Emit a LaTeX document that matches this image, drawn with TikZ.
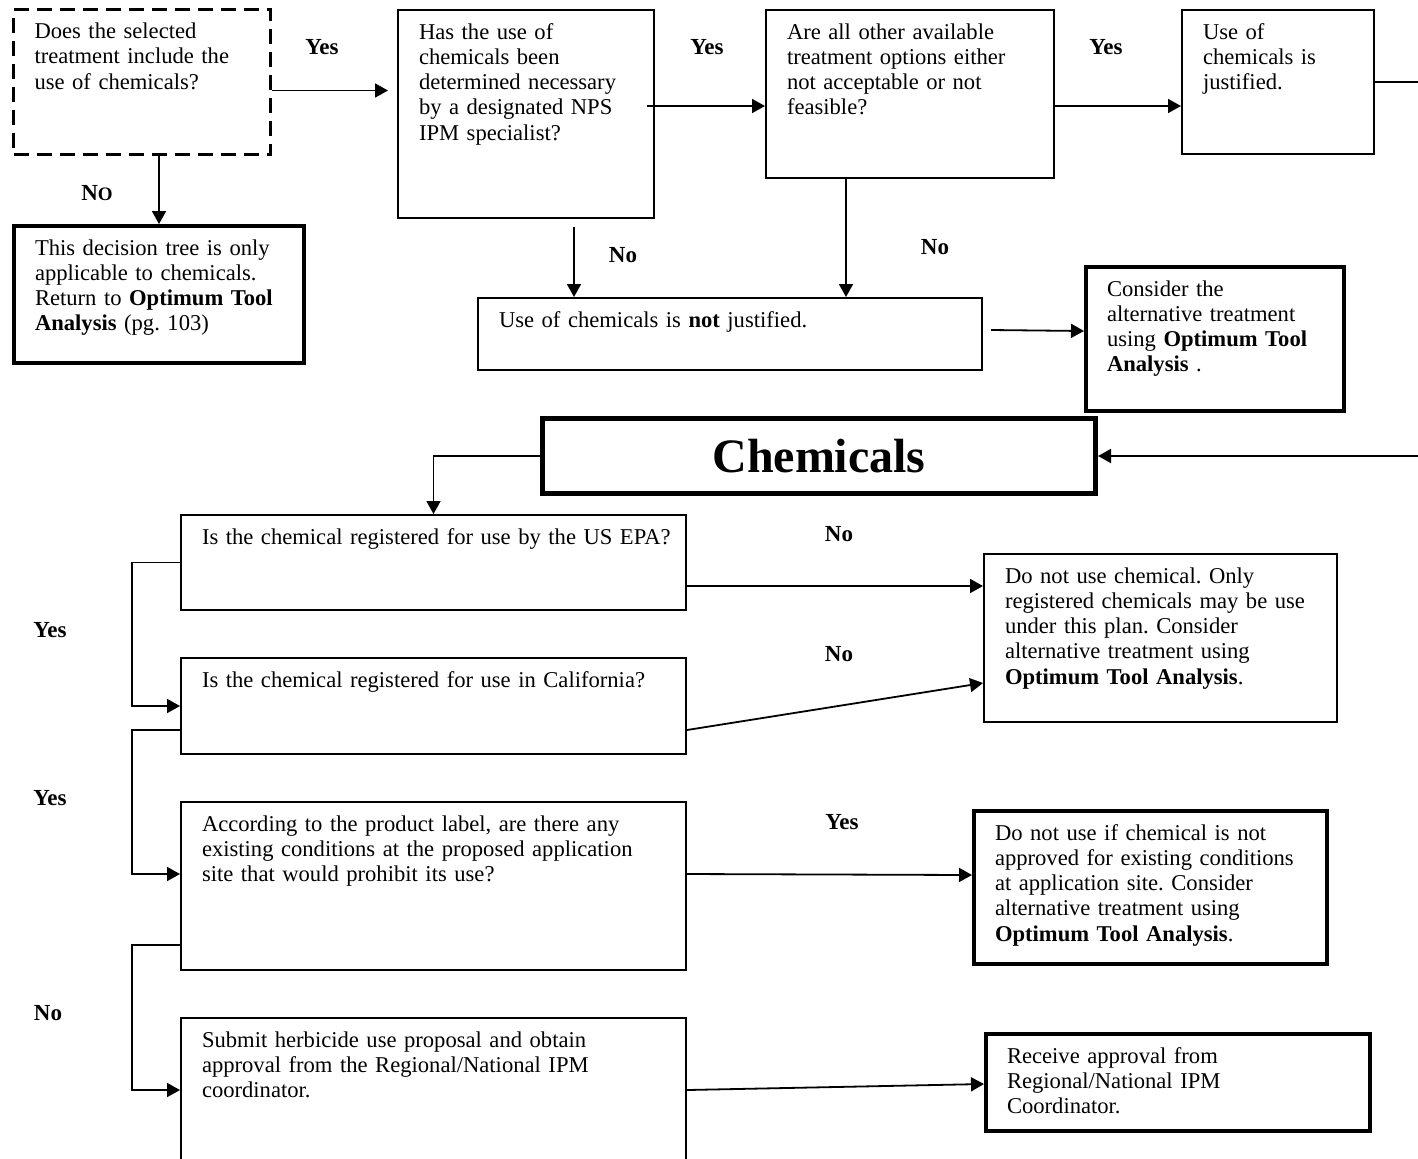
\documentclass[tikz,border=0pt]{standalone}
\usepackage{fontspec}
\setmainfont{Liberation Serif}
\usetikzlibrary{arrows.meta}
\usetikzlibrary{positioning}
\frenchspacing

\begin{document}
\begin{tikzpicture}[x=0.5pt, y=-0.5pt,
  box/.style={draw, line width=1pt, anchor=north west, align=left,
    inner xsep=10.5pt, inner ysep=6.5pt, text height=8pt,
    font=\fontsize{11.3}{12.65}\selectfont},
  heavy/.style={box, line width=2pt},
  lbl/.style={font=\fontsize{11.5}{12.65}\selectfont\bfseries},
  arr/.style={line width=0.9pt, -{Triangle[length=6.5pt,width=7pt]}}]
  \useasboundingbox (0,0) rectangle (1418,1158);

  % Upper part
  \node[box, line width=1.5pt, dash pattern=on 7.5pt off 4pt,
    text width=107.5pt, text depth=51.5pt] (q1) at (12,8)
    {Does the selected\\treatment include the\\use of chemicals?};
  \node[heavy, text width=124pt, text depth=47.5pt] (only) at (12,224)
    {This decision tree is only\\applicable to chemicals.\\Return to \textbf{Optimum Tool}\\\textbf{Analysis} (pg. 103)};
  \node[box, text width=107pt, text depth=83pt] (q2) at (397,9)
    {Has the use of\\chemicals been\\determined necessary\\by a designated NPS\\IPM specialist?};
  \node[box, text width=123pt, text depth=63pt] (q3) at (765,9)
    {Are all other available\\treatment options either\\not acceptable or not\\feasible?};
  \node[box, text width=75pt, text depth=51pt] (just) at (1181,9)
    {Use of\\chemicals is\\justified.};
  \node[box, text width=231pt, text depth=15pt] (notj) at (477,297)
    {Use of chemicals is \textbf{not} justified.};
  \node[heavy, text width=108pt, text depth=51pt] (alt) at (1084,265)
    {Consider the\\alternative treatment\\using \textbf{Optimum Tool}\\\textbf{Analysis} .};

  \node[draw, line width=2.5pt, anchor=north west, inner sep=2pt, minimum width=276.5pt,
    minimum height=37.5pt, font=\fontsize{24}{28}\selectfont\bfseries] (chem) at (540,416) {Chemicals};

  % Chemical checks
  \node[box, text width=231.5pt, text depth=26.5pt] (epa) at (180,514)
    {\mbox{Is the chemical registered for use by the US EPA?}};
  \node[box, text width=231.5pt, text depth=27pt] (cal) at (180,657)
    {Is the chemical registered for use in California?};
  \node[box, text width=231.5pt, text depth=63pt] (site) at (180,801)
    {According to the product label, are there any\\existing conditions at the proposed application\\site that would prohibit its use?};
  \node[box, text width=231.5pt, text depth=59pt] (submit) at (180,1017)
    {Submit herbicide use proposal and obtain\\approval from the Regional/National IPM\\coordinator.};
  \node[box, text width=155.5pt, text depth=63pt] (noreg) at (983,553)
    {Do not use chemical. Only\\registered chemicals may be use\\under this plan. Consider\\alternative treatment using\\\textbf{Optimum Tool Analysis}.};
  \node[heavy, text width=155.5pt, text depth=55.5pt] (nosite) at (972,809)
    {Do not use if chemical is not\\approved for existing conditions\\at application site. Consider\\alternative treatment using\\\textbf{Optimum Tool Analysis}.};
  \node[heavy, text width=171pt, text depth=27.5pt] (recv) at (984,1032)
    {Receive approval from\\Regional/National IPM\\Coordinator.};

  % Labels
  \node[lbl] (y1) at (322,47) {Yes};
  \node[lbl] (y2) at (707,47) {Yes};
  \node[lbl] (y3) at (1106,47) {Yes};
  \node[lbl] (n1) at (97,193) {N{\fontsize{9.5}{10}\selectfont O}};
  \node[lbl] (n2) at (623,255) {No};
  \node[lbl] (n3) at (935,247) {No};
  \node[lbl] (n4) at (839,534) {No};
  \node[lbl] (n5) at (839,654) {No};
  \node[lbl] (y4) at (50,630) {Yes};
  \node[lbl] (y5) at (50,798) {Yes};
  \node[lbl] (y6) at (842,822) {Yes};
  \node[lbl] (n6) at (48,1013) {No};

  % Connectors
  \coordinate (edgeA) at (1418,81);
  \coordinate (edgeB) at (1418,453.5);
  \draw[arr, shorten >=4.5pt] ([yshift=-4.25pt]q1.east) -- ([yshift=-4.25pt]q1.east -| q2.west);
  \draw[arr] (only.north |- q1.south) -- (only.north);
  \draw[arr] ([xshift=-4pt,yshift=4pt]q2.east) -- ([yshift=-6pt]q3.west);
  \draw[arr] ([xshift=24pt,yshift=-4pt]q2.south) -- ([xshift=-78pt]notj.north);
  \draw[arr] ([xshift=-32pt]q3.south) -- ([xshift=58pt]notj.north);
  \draw[arr] ([yshift=-6pt]q3.east) -- ([yshift=-12pt]just.west);
  \draw[line width=0.9pt] (just.east) -- (just.east -| edgeA);
  \draw[arr] ([xshift=4pt,yshift=2pt]notj.east) -- ([yshift=4pt]alt.west);
  \draw[arr] (chem.east -| edgeB) -- (chem.east);
  \draw[arr] (chem.west) -| (epa.north);

  \draw[arr] (epa.west) -- ++(-24pt,0) |- (cal.west);
  \draw[arr] ([yshift=-12pt]cal.west) -- ++(-24pt,0) |- ([yshift=6pt]site.west);
  \draw[arr] ([yshift=-29.5pt]site.west) -- ++(-24pt,0) |- ([yshift=4pt]submit.west);
  \draw[arr] ([yshift=-11.75pt]epa.east) -- ([yshift=26pt]noreg.west);
  \draw[arr] ([yshift=-12pt]cal.east) -- ([yshift=-22.5pt]noreg.west);
  \draw[arr] ([yshift=6pt]site.east) -- ([yshift=6.25pt]nosite.west);
  \draw[arr] ([yshift=4pt]submit.east) -- ([yshift=-0.75pt]recv.west);
\end{tikzpicture}
\end{document}
